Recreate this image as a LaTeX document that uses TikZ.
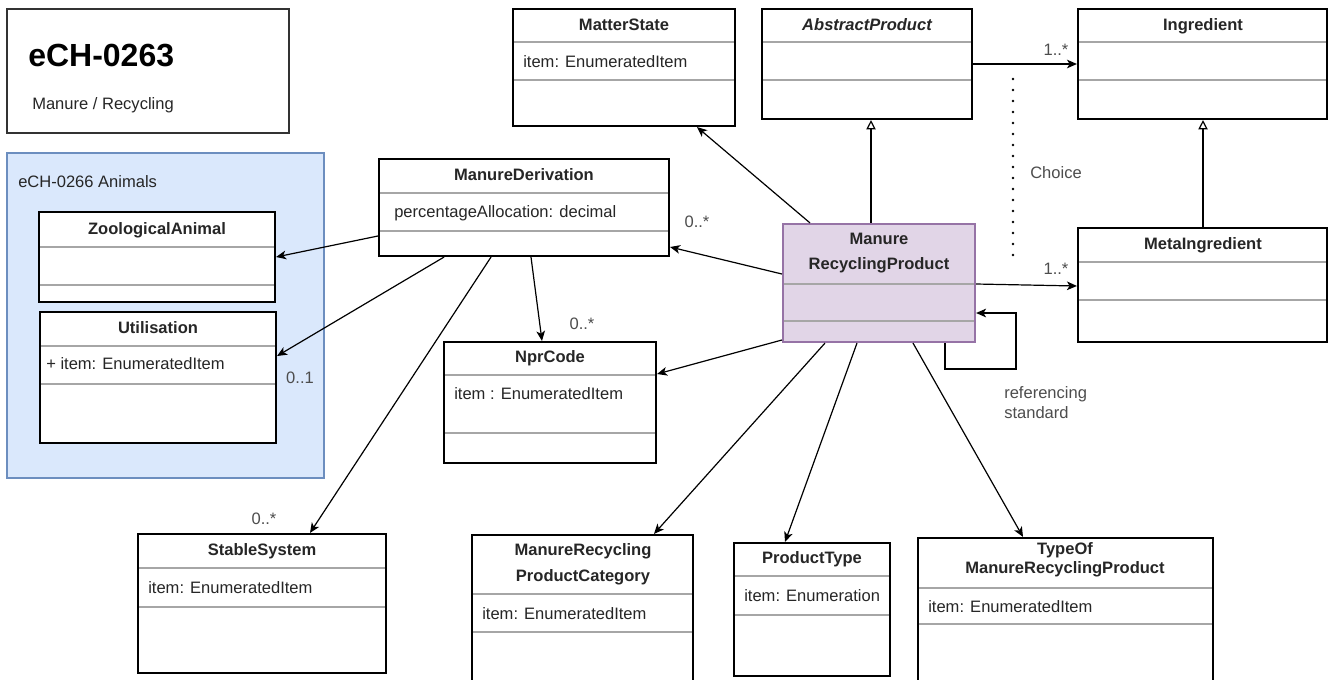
\documentclass[tikz,border=0pt]{standalone}
\usepackage{fontspec}
\setmainfont{Liberation Sans}
\usetikzlibrary{fit,arrows.meta}
\definecolor{blueF}{HTML}{DAE8FC}
\definecolor{blueD}{HTML}{6C8EBF}
\definecolor{purF}{HTML}{E1D5E7}
\definecolor{purD}{HTML}{9673A6}
\definecolor{sepC}{HTML}{A6A6A6}
\definecolor{txt}{HTML}{262626}
\definecolor{lbl}{HTML}{4D4D4D}
\definecolor{titleC}{HTML}{333333}
\tikzset{
 cls/.style={draw=black, line width=1.6pt, fill=white, inner sep=0pt},
 prod/.style={draw=purD, line width=1.6pt, fill=purF, inner sep=0pt},
 sepline/.style={draw=sepC, line width=0.9pt},
 hdr/.style={font=\fontsize{12.4}{15}\selectfont\bfseries, text=txt, inner sep=0pt, anchor=base},
 hdri/.style={font=\fontsize{12.4}{15}\selectfont\bfseries\itshape, text=txt, inner sep=0pt, anchor=base},
 attr/.style={font=\fontsize{12.4}{15}\selectfont, text=txt, inner sep=0pt, anchor=base west},
 mult/.style={font=\fontsize{12.4}{15}\selectfont, text=lbl, inner sep=0pt, anchor=base},
 assoc/.style={draw=black, line width=0.9pt, -{Stealth[length=7.5pt,width=6.5pt,inset=2pt]}},
 gen/.style={draw=black, line width=0.9pt, -{Triangle[open,length=7pt,width=7pt,fill=white]}},
 choiceline/.style={draw=black, line width=2.1pt, line cap=round, dash pattern=on 0pt off 8.25pt},
}
\begin{document}
\begin{tikzpicture}[x=0.75pt,y=-0.75pt]
\useasboundingbox (0,0) rectangle (1335,679);
\clip (0,0) rectangle (1335,679);
\fill[white] (0,0) rectangle (1335,679);

% title box
\node[draw=titleC, line width=1pt, inner sep=0pt, fit={(7,9) (289,133)}] (titlebox) {};
\node[font=\fontsize{24}{28}\selectfont\bfseries, text=black, anchor=base west, inner sep=0pt] (ttl) at (28,66) {eCH-0263};
\node[attr] (subttl) at (32,109) {Manure / Recycling};

% eCH-0266 Animals package
\node[draw=blueD, fill=blueF, line width=0.8pt, inner sep=0pt, fit={(7,153) (324,478)}] (animals) {};
\node[attr] (animals-t) at (18,187) {eCH-0266 Animals};

% ZoologicalAnimal
\node[cls, fit={(39,212) (275,302)}] (zoo) {};
\draw[sepline] (40,247) -- (274,247) (40,285) -- (274,285);
\node[hdr] (zoo-t) at (157,234) {ZoologicalAnimal};

% Utilisation
\node[cls, fit={(40,312) (276,443)}] (util) {};
\draw[sepline] (41,346) -- (275,346) (41,384) -- (275,384);
\node[hdr] (util-t) at (158,333) {Utilisation};
\node[attr] (util-a) at (46,369) {+ item: EnumeratedItem};

% ManureDerivation
\node[cls, fit={(379,159) (669,256)}] (md) {};
\draw[sepline] (380,193) -- (668,193) (380,231) -- (668,231);
\node[hdr] (md-t) at (524,180) {ManureDerivation};
\node[attr] (md-a) at (394,217) {percentageAllocation: decimal};

% MatterState
\node[cls, fit={(513,9) (735,126)}] (ms) {};
\draw[sepline] (514,42) -- (734,42) (514,80) -- (734,80);
\node[hdr] (ms-t) at (624,30) {MatterState};
\node[attr] (ms-a) at (523,67) {item: EnumeratedItem};

% AbstractProduct
\node[cls, fit={(762,9) (972,119)}] (ap) {};
\draw[sepline] (763,42) -- (971,42) (763,80) -- (971,80);
\node[hdri] (ap-t) at (867,30) {AbstractProduct};

% Ingredient
\node[cls, fit={(1078,9) (1327,119)}] (ing) {};
\draw[sepline] (1079,42) -- (1326,42) (1079,80) -- (1326,80);
\node[hdr] (ing-t) at (1203,30) {Ingredient};

% MetaIngredient
\node[cls, fit={(1078,228) (1327,342)}] (mi) {};
\draw[sepline] (1079,262) -- (1326,262) (1079,300) -- (1326,300);
\node[hdr] (mi-t) at (1203,249) {MetaIngredient};

% ManureRecyclingProduct
\node[prod, fit={(783,224) (975,342)}] (mrp) {};
\draw[sepline] (784,284) -- (974,284) (784,321) -- (974,321);
\node[hdr] (mrp-t1) at (879,244) {Manure};
\node[hdr] (mrp-t2) at (879,269) {RecyclingProduct};

% NprCode
\node[cls, fit={(444,342) (656,463)}] (npr) {};
\draw[sepline] (445,375) -- (655,375) (445,433) -- (655,433);
\node[hdr] (npr-t) at (550,362) {NprCode};
\node[attr] (npr-a) at (454,399) {item : EnumeratedItem};

% StableSystem
\node[cls, fit={(138,534) (386,673)}] (ss) {};
\draw[sepline] (139,568) -- (385,568) (139,607) -- (385,607);
\node[hdr] (ss-t) at (262,555) {StableSystem};
\node[attr] (ss-a) at (148,593) {item: EnumeratedItem};

% ManureRecyclingProductCategory
\node[cls, fit={(472,535) (693,690)}] (mrpc) {};
\draw[sepline] (473,594) -- (692,594) (473,632) -- (692,632);
\node[hdr] (mrpc-t1) at (583,555) {ManureRecycling};
\node[hdr] (mrpc-t2) at (583,581) {ProductCategory};
\node[attr] (mrpc-a) at (482,619) {item: EnumeratedItem};

% ProductType
\node[cls, fit={(734,543) (890,676)}] (pt) {};
\draw[sepline] (735,576) -- (889,576) (735,615) -- (889,615);
\node[hdr] (pt-t) at (812,563) {ProductType};
\node[attr] (pt-a) at (744,601) {item: Enumeration};

% TypeOfManureRecyclingProduct
\node[cls, fit={(918,538) (1213,690)}] (tof) {};
\draw[sepline] (919,588) -- (1212,588) (919,624) -- (1212,624);
\node[hdr] (tof-t1) at (1065,554) {TypeOf};
\node[hdr] (tof-t2) at (1065,573) {ManureRecyclingProduct};
\node[attr] (tof-a) at (928,612) {item: EnumeratedItem};

% connectors
\draw[assoc] (mrp.north -| 810,0) -- (ms.south -| 697,0);
\draw[gen] (mrp.north -| 871,0) -- (ap.south -| 871,0);
\draw[assoc] (ap.east |- 0,64) -- (ing.west |- 0,64);
\node[mult] (m-ing) at (1056,55) {1..*};
\draw[gen] (mi.north -| 1203,0) -- (ing.south -| 1203,0);
\draw[assoc] (mrp.east |- 0,284) -- (mi.west |- 0,286);
\node[mult] (m-mi) at (1056,274) {1..*};

\coordinate (chA) at (1013,79);
\coordinate (chB) at (1013,257);
\draw[choiceline] (chA) -- (chB);
\node[attr, text=lbl] (choice) at (1030,178) {Choice};

\coordinate (loopA) at (1016,369);
\draw[assoc] (mrp.south -| 945,0) |- (loopA) |- (mrp.east |- 0,313);
\node[attr, text=lbl] (ref1) at (1004,398) {referencing};
\node[attr, text=lbl] (ref2) at (1004,418) {standard};

\draw[assoc] (mrp.west |- 0,274) -- (md.east |- 0,247);
\node[mult] (m-md) at (697,227) {0..*};
\draw[assoc] (mrp.west |- 0,340) -- (npr.east |- 0,374);

\draw[assoc] (md.west |- 0,236) -- (zoo.east |- 0,257);
\draw[assoc] (md.south -| 444,0) -- (util.east |- 0,356);
\node[mult] (m-util) at (300,383) {0..1};
\draw[assoc] (md.south -| 531,0) -- (npr.north -| 542,0);
\node[mult] (m-npr) at (582,329) {0..*};
\draw[assoc] (md.south -| 491,0) -- (ss.north -| 310,0);
\node[mult] (m-ss) at (264,524) {0..*};

\draw[assoc] (mrp.south -| 825,0) -- (mrpc.north -| 654,0);
\draw[assoc] (mrp.south -| 857,0) -- (pt.north -| 785,0);
\draw[assoc] (mrp.south -| 913,0) -- (tof.north -| 1023,0);
\end{tikzpicture}
\end{document}
